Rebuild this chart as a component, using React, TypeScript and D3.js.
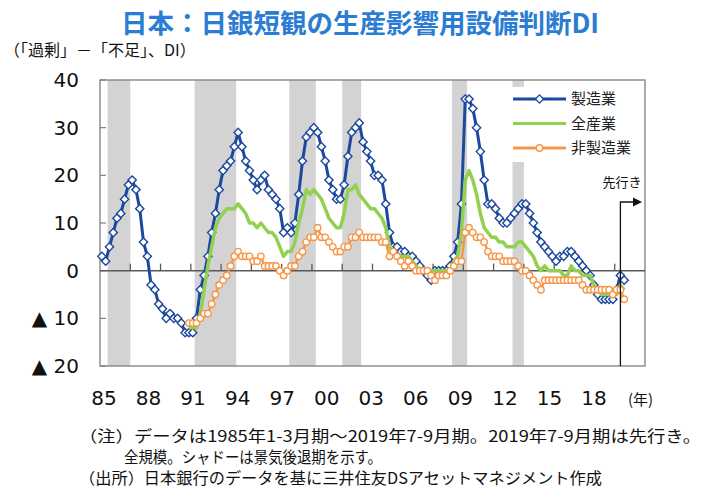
import React from "react";
import * as d3 from "d3";

// quarterly categories 1985Q1 .. 2020Q4 (axis runs a little past the last point)
const years = d3.range(1985, 2021);
const quarters: string[] = years.flatMap((y) => [1, 2, 3, 4].map((q) => `${y}Q${q}`));

// 製造業: 1985Q1 .. 2019Q3
const manufacturing = [
  3, 2, 5, 8, 11, 12, 15, 18, 19, 17, 13, 6, 3, -3, -4, -7, -8, -10, -9, -10,
  -10, -11, -13, -13, -13, -10, -4, -1, 3, 8, 12, 17, 21, 22, 23, 26, 29, 26, 23, 21,
  19, 17, 19, 20, 17, 16, 15, 13, 8, 9, 8, 10, 16, 23, 28, 29, 30, 29, 26, 23,
  19, 17, 15, 15, 18, 24, 29, 30, 31, 27, 25, 23, 20, 20, 19, 14, 8, 5, 5, 4,
  4, 3, 3, 2, 1, 0, -1, -2, 0, 0, 0, 0, 1, 3, 6, 14, 36, 36, 34, 30,
  25, 19, 14, 14, 13, 11, 10, 10, 11, 12, 13, 14, 14, 12, 10, 8, 6, 5, 4, 3,
  2, 3, 3, 4, 4, 3, 2, 1, 0, -1, -3, -5, -6, -6, -6, -6, -4, -1, -2,
];

// 全産業 / 非製造業: 1990Q4 .. 2019Q3
const subStart = "1990Q4";
const allIndustries = [
  -12, -12, -12, -9, -4, 1, 5, 9, 11, 12, 13, 13, 13, 14, 13, 12, 10, 10, 9, 10,
  9, 8, 8, 7, 5, 3, 4, 4, 6, 10, 13, 17, 16, 17, 16, 15, 13, 11, 10, 9,
  9, 12, 17, 17, 18, 16, 15, 14, 13, 13, 12, 11, 9, 5, 4, 3, 3, 3, 3, 2,
  1, 0, 0, 0, 0, 0, 0, 0, 0, 0, 2, 3, 8, 19, 21, 19, 16, 12, 9, 8,
  7, 7, 6, 6, 5, 5, 5, 6, 6, 5, 4, 3, 1, 0, 1, 0, 0, 0, 0, -1,
  -1, 1, 0, 0, -1, -1, -1, -3, -4, -5, -5, -5, -5, -5, -3, -4,
];
const nonManufacturing = [
  -11, -11, -11, -10, -9, -9, -7, -5, -3, -2, -1, 1, 3, 4, 3, 3, 3, 2, 2, 3,
  1, 1, 1, 1, 0, -1, 0, 1, 1, 3, 4, 6, 7, 7, 9, 7, 7, 6, 5, 4,
  4, 5, 5, 7, 7, 8, 7, 7, 7, 7, 7, 6, 6, 3, 4, 3, 2, 1, 2, 1,
  0, 0, 0, 0, -1, -2, -1, -1, -1, 0, 1, 2, 2, 8, 9, 8, 7, 7, 6, 4,
  3, 3, 3, 2, 2, 2, 2, 1, 0, 0, -1, -2, -3, -4, -2, -2, -2, -2, -2, -2,
  -2, -2, -2, -2, -3, -4, -4, -4, -4, -4, -4, -4, -5, -4, -4, -6,
];

// 景気後退期 (shaded)
const recessions: [string, string][] = [
  ["1985Q3", "1986Q4"],
  ["1991Q2", "1993Q4"],
  ["1997Q3", "1999Q1"],
  ["2001Q1", "2002Q1"],
  ["2008Q2", "2009Q1"],
  ["2012Q2", "2012Q4"],
];

const yTicks = [40, 30, 20, 10, 0, -10, -20];
const xLabels = ["85", "88", "91", "94", "97", "00", "03", "06", "09", "12", "15", "18"];
const forecastQuarter = "2019Q2";

const BLUE = "#1c48a0";
const GREEN = "#92d050";
const ORANGE = "#f79646";
const JP = "'Noto Sans CJK JP', sans-serif";
const NUM = "'DejaVu Sans', sans-serif";

export default function App() {
  const width = 707, height = 488;
  const plot = { left: 100, right: 645, top: 80, bottom: 366 };

  const x = d3.scaleBand<string>().domain(quarters).range([plot.left, plot.right]).padding(0);
  const xc = (q: string) => (x(q) as number) + x.bandwidth() / 2;
  const y = d3.scaleLinear().domain([-20, 40]).range([plot.bottom, plot.top]);
  const xLab = d3.scalePoint<string>().domain(xLabels).range([104, 594]);

  const offset = quarters.indexOf(subStart);
  const mfg = manufacturing.map((v, i) => ({ q: quarters[i], v }));
  const all = allIndustries.map((v, i) => ({ q: quarters[i + offset], v }));
  const non = nonManufacturing.map((v, i) => ({ q: quarters[i + offset], v }));

  const line = d3.line<{ q: string; v: number }>().x((d) => xc(d.q)).y((d) => y(d.v));
  const diamond = d3.symbol(d3.symbolSquare, 34)();

  const tickQuarters = quarters.filter((_, i) => i > 0 && i % 8 === 0);
  const fx = xc(forecastQuarter);
  const arrowY = 202;

  const legendRows = [
    { label: "製造業", color: BLUE, mark: "diamond" },
    { label: "全産業", color: GREEN, mark: "none" },
    { label: "非製造業", color: ORANGE, mark: "circle" },
  ];

  return (
    <svg width={width} height={height} style={{ position: "absolute", left: 0, top: 0, background: "#fff" }}>
      <text x={360} y={33} textAnchor="middle" fontFamily={JP} fontWeight="bold" fontSize={26.5} fill="#2b7cd3">
        日本：日銀短観の生産影響用設備判断DI
      </text>
      <text x={4} y={56} fontFamily={JP} fontSize={16} fill="#111">（「過剰」－「不足」、DI）</text>

      {recessions.map(([a, b]) => (
        <rect key={a} x={x(a)} y={plot.top} width={(x(b) as number) + x.bandwidth() - (x(a) as number)}
          height={plot.bottom - plot.top} fill="#d3d3d3" />
      ))}

      {/* legend box hides the shading behind it */}
      <rect x={506} y={87} width={136} height={75} fill="#fff" />

      <rect x={plot.left} y={plot.top} width={plot.right - plot.left} height={plot.bottom - plot.top}
        fill="none" stroke="#7f7f7f" strokeWidth={1.3} />
      {yTicks.map((t) => (
        <g key={t}>
          <line x1={plot.left} x2={plot.left + 6} y1={y(t)} y2={y(t)} stroke="#7f7f7f" strokeWidth={1.2} />
          <text x={79} y={y(t) + 7} textAnchor="end" fontFamily={NUM} fontSize={20} fill="#111">
            {t < 0 ? `▲ ${-t}` : t}
          </text>
        </g>
      ))}
      <line x1={plot.left} x2={plot.right} y1={y(0)} y2={y(0)} stroke="#595959" strokeWidth={1.5} />
      {tickQuarters.map((q) => (
        <line key={q} x1={x(q)} x2={x(q)} y1={y(0)} y2={y(0) - 7} stroke="#595959" strokeWidth={1.3} />
      ))}

      <path d={line(mfg) || ""} fill="none" stroke={BLUE} strokeWidth={3} strokeLinejoin="round" />
      {mfg.map((d) => (
        <path key={d.q} d={diamond} transform={`translate(${xc(d.q)},${y(d.v)}) rotate(45)`}
          fill="#fff" stroke={BLUE} strokeWidth={1.4} />
      ))}
      <path d={line(all) || ""} fill="none" stroke={GREEN} strokeWidth={3.5} strokeLinejoin="round" />
      <path d={line(non) || ""} fill="none" stroke={ORANGE} strokeWidth={2.5} strokeLinejoin="round" />
      {non.map((d) => (
        <circle key={d.q} cx={xc(d.q)} cy={y(d.v)} r={3.2} fill="#fff" stroke={ORANGE} strokeWidth={1.4} />
      ))}

      {/* forecast marker */}
      <path d={`M${fx},${plot.bottom}V${arrowY}H${634}`} fill="none" stroke="#111" strokeWidth={1.3} />
      <path d={`M${633},${arrowY - 4.5}L${642},${arrowY}L${633},${arrowY + 4.5}Z`} fill="#111" />
      <text x={622} y={187} textAnchor="middle" fontFamily={JP} fontSize={13} fill="#111">先行き</text>

      {legendRows.map((r, i) => {
        const ly = 99 + i * 24.5;
        return (
          <g key={r.label}>
            <line x1={513} x2={566} y1={ly} y2={ly} stroke={r.color} strokeWidth={3} />
            {r.mark === "diamond" && (
              <path d={diamond} transform={`translate(539.5,${ly}) rotate(45)`} fill="#fff" stroke={r.color} strokeWidth={1.4} />
            )}
            {r.mark === "circle" && <circle cx={539.5} cy={ly} r={3.2} fill="#fff" stroke={r.color} strokeWidth={1.4} />}
            <text x={571} y={ly + 5} fontFamily={JP} fontSize={15} fill="#222">{r.label}</text>
          </g>
        );
      })}

      {xLabels.map((l) => (
        <text key={l} x={xLab(l)} y={405} textAnchor="middle" fontFamily={NUM} fontSize={20} fill="#111">{l}</text>
      ))}
      <text x={628} y={405} fontFamily={JP} fontSize={15} fill="#111">(年)</text>

      <g fontFamily={JP} fontSize={15.5} fill="#111">
        <text x={79} y={442} textLength={622} lengthAdjust="spacingAndGlyphs">
          （注）データは1985年1-3月期～2019年7-9月期。2019年7-9月期は先行き。
        </text>
        <text x={124} y={463} textLength={258} lengthAdjust="spacingAndGlyphs">
          全規模。シャドーは景気後退期を示す。
        </text>
        <text x={79} y={484} textLength={523} lengthAdjust="spacingAndGlyphs">
          （出所）日本銀行のデータを基に三井住友DSアセットマネジメント作成
        </text>
      </g>
    </svg>
  );
}
